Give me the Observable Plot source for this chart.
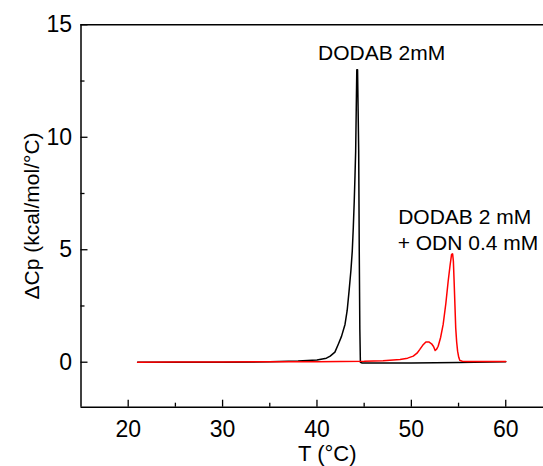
<!DOCTYPE html>
<html>
<head>
<meta charset="utf-8">
<script src="https://cdn.jsdelivr.net/npm/d3@7"></script>
<script src="https://cdn.jsdelivr.net/npm/@observablehq/plot@0.6"></script>
<style>
  html, body { margin: 0; padding: 0; background: #fff; }
  #chart svg { display: block; }
</style>
</head>
<body>
<div id="chart"></div>
<script>
// DODAB 2mM (black)
const blackT = [21, 25, 30, 35, 38, 40, 41, 41.4, 41.9, 42.26, 42.6, 42.97, 43.2, 43.4, 43.6, 43.74, 43.85, 43.95, 44.03, 44.1, 44.16, 44.22, 44.3, 44.36, 44.42, 44.48, 44.54, 44.6, 44.8, 46, 50, 55, 60];
const blackV = [0.0, 0.0, 0.0, 0.02, 0.05, 0.1, 0.18, 0.27, 0.45, 0.8, 1.15, 1.68, 2.3, 3.16, 4.1, 4.94, 6.0, 7.17, 8.3, 9.39, 11.2, 13.0, 13.0, 11.2, 9.4, 4.94, 1.5, 0.0, -0.04, -0.04, -0.03, -0.01, 0.02];
// DODAB 2 mM + ODN 0.4 mM (red)
const redT = [21, 25, 30, 35, 40, 45, 47, 48.8, 49.6, 50.2, 50.6, 50.9, 51.2, 51.54, 51.85, 52.14, 52.35, 52.52, 52.68, 52.84, 53.1, 53.37, 53.65, 53.9, 54.1, 54.26, 54.37, 54.45, 54.53, 54.62, 54.7, 54.8, 54.9, 55.02, 55.14, 55.4, 56, 58, 60];
const redV = [0.0, 0.01, 0.01, 0.02, 0.02, 0.04, 0.07, 0.12, 0.18, 0.27, 0.4, 0.57, 0.75, 0.9, 0.9, 0.82, 0.7, 0.52, 0.58, 0.71, 1.1, 1.68, 2.6, 3.6, 4.3, 4.79, 4.82, 4.5, 3.6, 2.5, 1.52, 0.9, 0.49, 0.22, 0.08, 0.04, 0.03, 0.03, 0.03];

const xTicks = [20, 30, 40, 50, 60];
const xMinor = [25, 35, 45, 55];
const yTicks = [0, 5, 10, 15];
const yMinor = [2.5, 7.5, 12.5];

const peakLabel = ["DODAB 2mM"];
const peakLabelX = [46.85];
const peakLabelY = [13.72];
const mixLabel = ["DODAB 2 mM", "+ ODN 0.4 mM"];
const mixLabelX = [48.6, 48.55];
const mixLabelY = [6.45, 5.31];

const black = blackT.map((t, i) => ({T: t, v: blackV[i]}));
const red = redT.map((t, i) => ({T: t, v: redV[i]}));
const lab1 = peakLabel.map((s, i) => ({s, x: peakLabelX[i], y: peakLabelY[i]}));
const lab2 = mixLabel.map((s, i) => ({s, x: mixLabelX[i], y: mixLabelY[i]}));

const W = 543, H = 466;
const mL = 80.5, mR = 0, mT = 24.3, mB = 59.3;
const plotW = W - mL - mR, plotH = H - mT - mB;
const font = "Liberation Sans, Arial, Helvetica, sans-serif";
const fs = 21, tfs = 23, afs = 22;

const chart = Plot.plot({
  width: W,
  height: H,
  marginLeft: mL,
  marginRight: mR,
  marginTop: mT,
  marginBottom: mB,
  style: {fontFamily: font, fontSize: fs + "px", color: "#000", background: "#fff", overflow: "visible"},
  x: {domain: [15, 64], label: null},
  y: {domain: [-2, 15], label: null},
  marks: [
    Plot.axisX(xTicks, {tickSize: 0, tickPadding: 13, fontSize: tfs, label: null}),
    Plot.axisY(yTicks, {tickSize: 0, tickPadding: 9, fontSize: tfs, label: null}),
    Plot.tickX(xTicks, {x: d => d, insetTop: plotH - 7, stroke: "#000", strokeWidth: 1.3}),
    Plot.tickX(xMinor, {x: d => d, insetTop: plotH - 4, stroke: "#000", strokeWidth: 1.3}),
    Plot.tickY(yTicks, {y: d => d, insetRight: plotW - 7, stroke: "#000", strokeWidth: 1.3}),
    Plot.tickY(yMinor, {y: d => d, insetRight: plotW - 4, stroke: "#000", strokeWidth: 1.3}),
    Plot.ruleY([-2], {stroke: "#000", strokeWidth: 1.5}),
    Plot.ruleY([15], {stroke: "#000", strokeWidth: 1.5}),
    Plot.ruleX([15], {stroke: "#000", strokeWidth: 1.5}),
    Plot.line(black, {x: "T", y: "v", stroke: "#000", strokeWidth: 1.5}),
    Plot.line(red, {x: "T", y: "v", stroke: "#ff0000", strokeWidth: 1.5}),
    Plot.text(lab1, {x: "x", y: "y", text: "s", textAnchor: "middle", lineAnchor: "middle", fontSize: fs, fill: "#000"}),
    Plot.text(lab2, {x: "x", y: "y", text: "s", textAnchor: "start", lineAnchor: "middle", fontSize: fs, fill: "#000"}),
    Plot.text(["T (°C)"], {frameAnchor: "bottom", textAnchor: "middle", lineAnchor: "middle", dx: 15, dy: 47, fontSize: afs, fill: "#000"}),
    Plot.text(["ΔCp (kcal/mol/°C)"], {frameAnchor: "left", textAnchor: "middle", lineAnchor: "middle", rotate: -90, dx: -49, fontSize: afs - 1, fill: "#000"})
  ]
});
document.getElementById("chart").appendChild(chart);
</script>
</body>
</html>
